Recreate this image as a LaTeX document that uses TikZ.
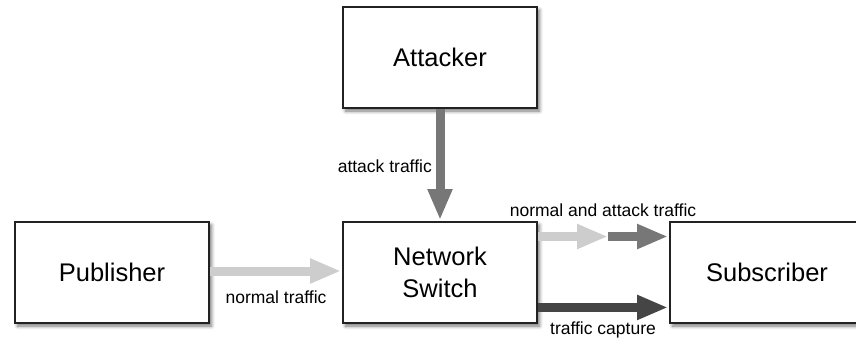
\documentclass[tikz,border=0pt]{standalone}
\usepackage{fontspec}
\setmainfont{Liberation Sans}
\usetikzlibrary{arrows.meta,shadows.blur,calc}

\definecolor{boxline}{HTML}{222222}
\definecolor{lightflow}{HTML}{CDCDCD}
\definecolor{midflow}{HTML}{777777}
\definecolor{darkflow}{HTML}{454545}

\tikzset{
  unit/.style={draw=boxline, line width=1.8pt, fill=white,
    minimum width=194pt, minimum height=101pt, inner sep=0pt,
    align=center, font=\fontsize{25.5}{32}\selectfont,
    blur shadow={shadow xshift=2.5pt, shadow yshift=-3pt,
      shadow blur steps=6, shadow blur radius=3.5pt, shadow opacity=55}},
  flow/.style={line width=9pt, -{Triangle[width=23pt, length=31pt]}},
  flowlabel/.style={font=\fontsize{17.5}{20}\selectfont, inner sep=0pt}
}

\begin{document}
\begin{tikzpicture}[x=1pt, y=-1pt]
  \useasboundingbox (0,0) rectangle (856,345);

  % equipment boxes
  \node[unit] (att) at (440,57.5) {Attacker};
  \node[unit] (pub) at (112,272.5) {Publisher};
  \node[unit] (sw)  at (440,272.5) {Network\\Switch};
  \node[unit] (sub) at (767,272.5) {Subscriber};

  % attacker injects traffic into the switch
  \draw[flow, midflow, shorten >=1pt] (att.south) -- (sw.north);
  \node[flowlabel, anchor=east] (lblatk) at (432,166) {attack traffic};

  % publisher sends normal traffic
  \draw[flow, lightflow, shorten >=1pt] (pub.east |- 0,271) -- (sw.west |- 0,271);
  \node[flowlabel] (lblnorm) at (276,297) {normal traffic};

  % mixed traffic towards the subscriber, drawn as two stages
  \coordinate (mixsrc) at ($(sw.north east)!0.15!(sw.south east)$);
  \coordinate (mixmid) at (608,0 |- mixsrc);
  \coordinate (mixdst) at ($(sub.north west)!0.15!(sub.south west)$);
  \draw[flow, lightflow] (mixsrc) -- (mixmid);
  \draw[flow, midflow, shorten >=1pt] (mixmid) -- (mixdst);
  \node[flowlabel] (lblmix) at (603,210) {normal and attack traffic};

  % captured traffic
  \coordinate (capsrc) at ($(sw.north east)!0.84!(sw.south east)$);
  \coordinate (capdst) at ($(sub.north west)!0.84!(sub.south west)$);
  \draw[flow, darkflow, shorten >=1pt] (capsrc) -- (capdst);
  \node[flowlabel] (lblcap) at (603,330) {traffic capture};
\end{tikzpicture}
\end{document}
